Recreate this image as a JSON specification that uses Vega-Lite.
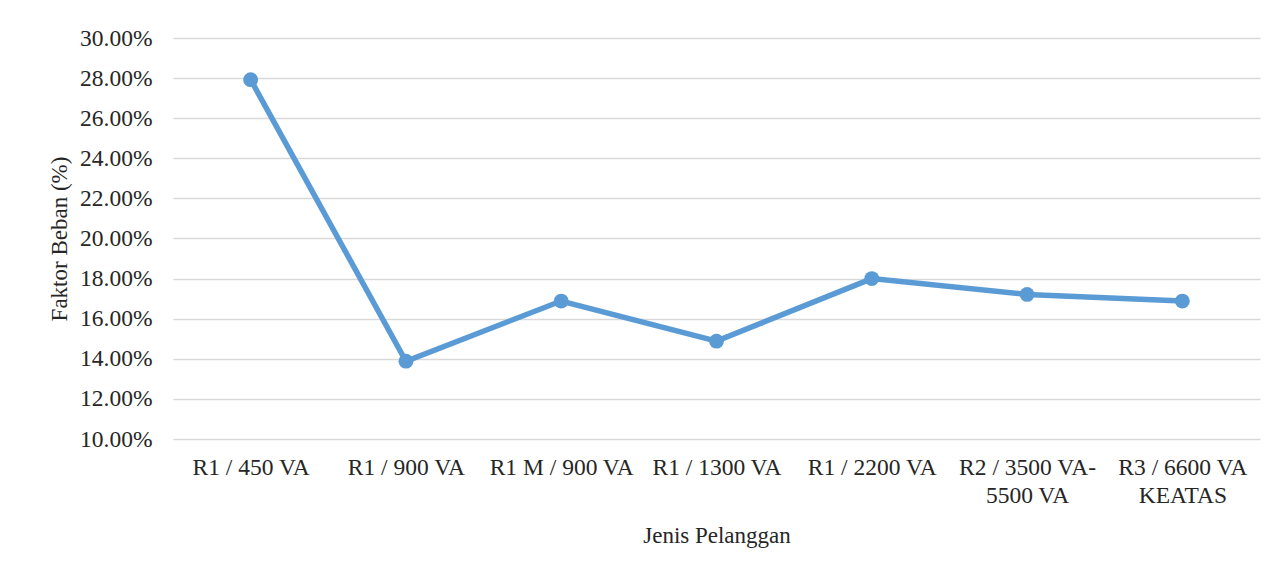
{
  "$schema": "https://vega.github.io/schema/vega-lite/v6.json",
  "width": 1087,
  "height": 401,
  "autosize": {"type": "none"},
  "padding": {"left": 173, "top": 38, "right": 23, "bottom": 131},
  "background": "white",
  "config": {
    "view": {"stroke": null},
    "font": "Liberation Serif",
    "axis": {
      "labelFont": "Liberation Serif",
      "titleFont": "Liberation Serif",
      "labelColor": "#262626",
      "titleColor": "#262626",
      "titleFontWeight": "normal",
      "labelFontSize": 23.5,
      "titleFontSize": 23
    }
  },
  "data": {
    "values": [
      {"jenis": "R1 / 450 VA", "faktor": 0.2792},
      {"jenis": "R1 / 900 VA", "faktor": 0.1388},
      {"jenis": "R1 M / 900 VA", "faktor": 0.1688},
      {"jenis": "R1 / 1300 VA", "faktor": 0.1488},
      {"jenis": "R1 / 2200 VA", "faktor": 0.1800},
      {"jenis": "R2 / 3500 VA-5500 VA", "faktor": 0.1721},
      {"jenis": "R3 / 6600 VA KEATAS", "faktor": 0.1688}
    ]
  },
  "encoding": {
    "x": {
      "field": "jenis",
      "type": "nominal",
      "sort": null,
      "scale": {"type": "point", "padding": 0.5},
      "axis": {
        "title": "Jenis Pelanggan",
        "labelAngle": 0,
        "domain": false,
        "ticks": false,
        "tickSize": 0,
        "labelPadding": 16,
        "labelLineHeight": 28,
        "titlePadding": 18,
        "labelExpr": "datum.label == 'R2 / 3500 VA-5500 VA' ? ['R2 / 3500 VA-', '5500 VA'] : datum.label == 'R3 / 6600 VA KEATAS' ? ['R3 / 6600 VA', 'KEATAS'] : datum.label"
      }
    },
    "y": {
      "field": "faktor",
      "type": "quantitative",
      "scale": {"domain": [0.10, 0.30], "nice": false},
      "axis": {
        "title": "Faktor Beban (%)",
        "format": ".2%",
        "values": [0.10, 0.12, 0.14, 0.16, 0.18, 0.20, 0.22, 0.24, 0.26, 0.28, 0.30],
        "domain": false,
        "ticks": false,
        "tickSize": 0,
        "labelPadding": 21,
        "titlePadding": 8,
        "gridColor": "#d9d9d9",
        "gridWidth": 1.5
      }
    }
  },
  "layer": [
    {"mark": {"type": "line", "color": "#5B9BD5", "strokeWidth": 5.5}},
    {"mark": {"type": "point", "filled": true, "color": "#5B9BD5", "opacity": 1, "size": 220}}
  ]
}
